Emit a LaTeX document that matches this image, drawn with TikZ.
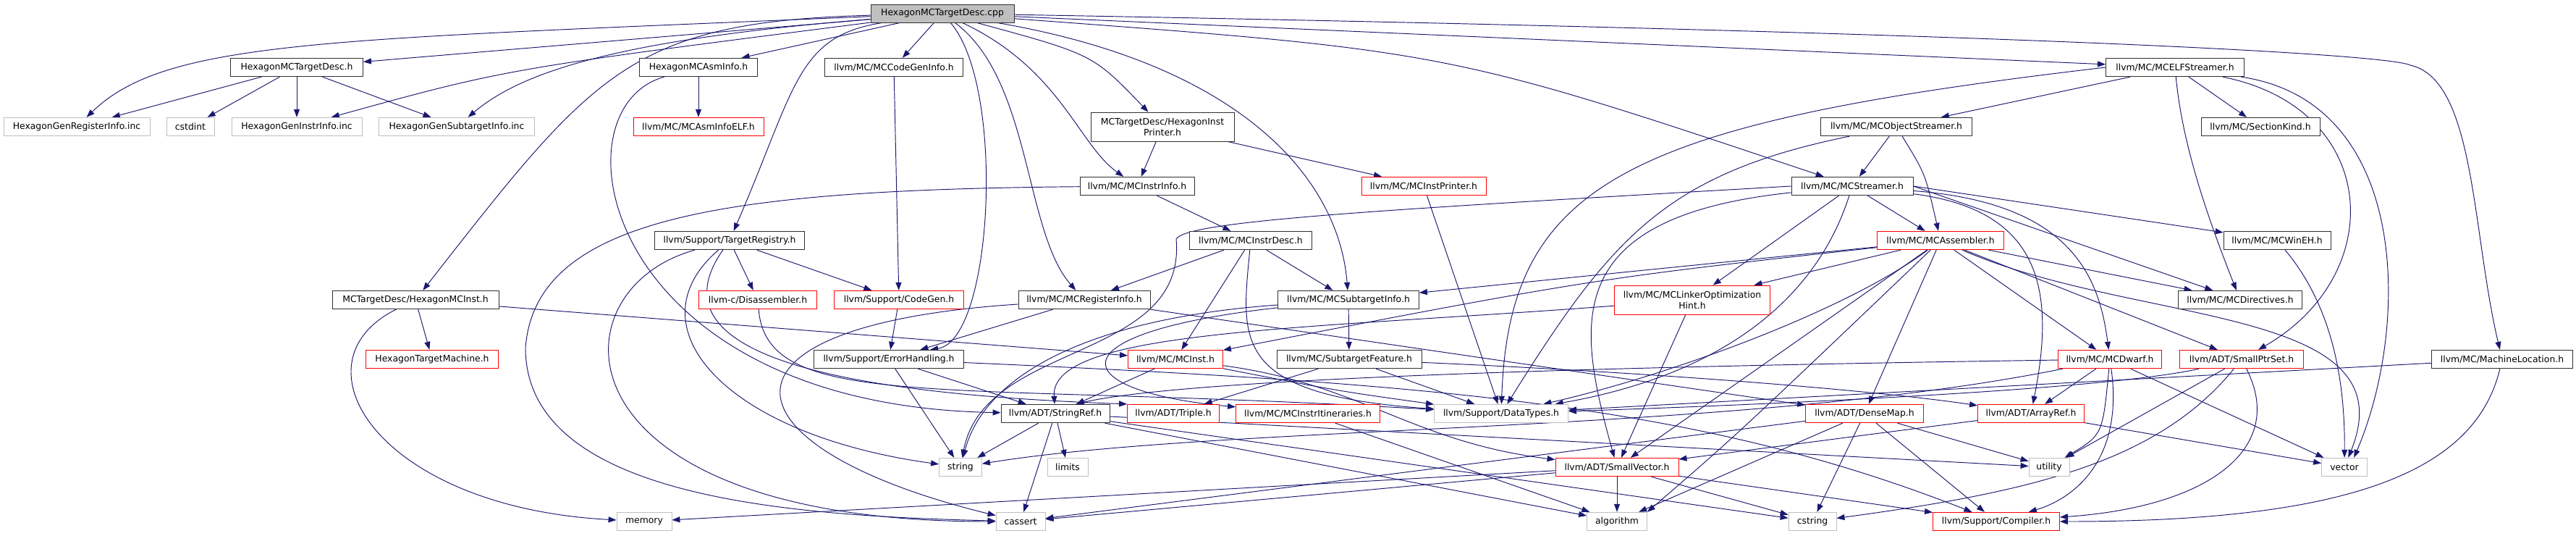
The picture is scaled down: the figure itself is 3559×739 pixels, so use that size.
\documentclass[tikz,border=0pt]{standalone}
\usepackage{fontspec}
\setmainfont{DejaVu Sans}
\usetikzlibrary{arrows.meta}
\pgfdeclarelayer{bg}
\pgfsetlayers{bg,main}
\definecolor{edgeblue}{HTML}{191970}
\definecolor{graybd}{HTML}{BFBFBF}
\definecolor{topfill}{HTML}{BFBFBF}
\definecolor{redbd}{HTML}{FF0000}
\definecolor{darkbd}{HTML}{303030}
\begin{document}
\begin{tikzpicture}[x=1pt,y=-1pt,
  nb/.style={draw=darkbd,fill=white,line width=0.85pt,minimum height=25.5pt,inner sep=0pt,font=\fontsize{12.4}{15}\selectfont},
  ng/.style={nb,draw=graybd},
  nr/.style={nb,draw=redbd},
  dep/.style={draw=edgeblue,line width=0.95pt,-{Triangle[length=11pt,width=8pt]}}]
\useasboundingbox (0,0) rectangle (3559,739);
% row 0
\node[nb,fill=topfill,minimum width=198pt,minimum height=25pt] (cpp) at (1302,18.5) {HexagonMCTargetDesc.cpp};
% row 1
\node[nb,minimum width=183pt] (tdh) at (410,93) {HexagonMCTargetDesc.h};
\node[nb,minimum width=163pt] (asm) at (965,93) {HexagonMCAsmInfo.h};
\node[nb,minimum width=191pt] (cgi) at (1235,93) {llvm/MC/MCCodeGenInfo.h};
\node[nb,minimum width=191pt] (elf) at (3005,93) {llvm/MC/MCELFStreamer.h};
% row 2
\node[ng,minimum width=202pt] (reginc) at (106,175) {HexagonGenRegisterInfo.inc};
\node[ng,minimum width=66pt] (cstdint) at (263,175) {cstdint};
\node[ng,minimum width=180pt] (instrinc) at (410,175) {HexagonGenInstrInfo.inc};
\node[ng,minimum width=215pt] (subinc) at (631,175) {HexagonGenSubtargetInfo.inc};
\node[nr,minimum width=180pt] (asmelf) at (965,175) {llvm/MC/MCAsmInfoELF.h};
\node[nb,minimum width=198pt,minimum height=40pt,align=center] (printer) at (1606,175) {MCTargetDesc/HexagonInst\\Printer.h};
\node[nb,minimum width=209pt] (objstr) at (2620,175) {llvm/MC/MCObjectStreamer.h};
\node[nb,minimum width=164pt] (seckind) at (3123,175) {llvm/MC/SectionKind.h};
% row 3
\node[nb,minimum width=158pt] (instrinfo) at (1571,257) {llvm/MC/MCInstrInfo.h};
\node[nr,minimum width=172pt] (instprinter) at (1967,257) {llvm/MC/MCInstPrinter.h};
\node[nb,minimum width=168pt] (streamer) at (2559,257) {llvm/MC/MCStreamer.h};
% row 4
\node[nb,minimum width=207pt] (treg) at (1008,332) {llvm/Support/TargetRegistry.h};
\node[nb,minimum width=169pt] (instrdesc) at (1728,332) {llvm/MC/MCInstrDesc.h};
\node[nr,minimum width=175pt] (assembler) at (2681,332) {llvm/MC/MCAssembler.h};
\node[nb,minimum width=148pt] (wineh) at (3146,332) {llvm/MC/MCWinEH.h};
% row 5
\node[nb,minimum width=230pt] (hmcinst) at (574,414) {MCTargetDesc/HexagonMCInst.h};
\node[nr,minimum width=163pt] (disasm) at (1047,414) {llvm-c/Disassembler.h};
\node[nr,minimum width=179pt] (codegen) at (1242,414) {llvm/Support/CodeGen.h};
\node[nb,minimum width=182pt] (reginfo) at (1498,414) {llvm/MC/MCRegisterInfo.h};
\node[nb,minimum width=195pt] (subinfo) at (1863,414) {llvm/MC/MCSubtargetInfo.h};
\node[nr,minimum width=215pt,minimum height=40pt,align=center] (loh) at (2338,414) {llvm/MC/MCLinkerOptimization\\Hint.h};
\node[nb,minimum width=171pt] (directives) at (3095,414) {llvm/MC/MCDirectives.h};
% row 6
\node[nr,minimum width=183pt] (htm) at (597,496) {HexagonTargetMachine.h};
\node[nb,minimum width=207pt] (errh) at (1228,496) {llvm/Support/ErrorHandling.h};
\node[nr,minimum width=131pt] (mcinst) at (1624,496) {llvm/MC/MCInst.h};
\node[nb,minimum width=200pt] (subfeat) at (1864,496) {llvm/MC/SubtargetFeature.h};
\node[nr,minimum width=143pt] (dwarf) at (2915,496) {llvm/MC/MCDwarf.h};
\node[nr,minimum width=171pt] (smallptr) at (3097,496) {llvm/ADT/SmallPtrSet.h};
\node[nb,minimum width=195pt] (machloc) at (3457,496) {llvm/MC/MachineLocation.h};
% row 7
\node[nb,minimum width=150pt] (stringref) at (1458,571) {llvm/ADT/StringRef.h};
\node[nr,minimum width=127pt] (triple) at (1621,571) {llvm/ADT/Triple.h};
\node[nr,minimum width=199pt] (itin) at (1807,571) {llvm/MC/MCInstrItineraries.h};
\node[ng,minimum width=185pt] (datatypes) at (2074,571) {llvm/Support/DataTypes.h};
\node[nr,minimum width=163pt] (densemap) at (2576,571) {llvm/ADT/DenseMap.h};
\node[nr,minimum width=147pt] (arrayref) at (2806,571) {llvm/ADT/ArrayRef.h};
% row 8
\node[ng,minimum width=59pt] (string) at (1327,645) {string};
\node[ng,minimum width=56pt] (limits) at (1475,645) {limits};
\node[nr,minimum width=170pt] (smallvec) at (2234,645) {llvm/ADT/SmallVector.h};
\node[ng,minimum width=56pt] (utility) at (2831,645) {utility};
\node[ng,minimum width=63pt] (vector) at (3239,645) {vector};
% row 9
\node[ng,minimum width=76pt] (memory) at (890,720) {memory};
\node[ng,minimum width=68pt] (cassert) at (1410,720) {cassert};
\node[ng,minimum width=83pt] (algorithm) at (2234,720) {algorithm};
\node[ng,minimum width=66pt] (cstring) at (2504,720) {cstring};
\node[nr,minimum width=175pt] (compiler) at (2758,720) {llvm/Support/Compiler.h};

\begin{pgfonlayer}{bg}
\fill[white] (0,0) rectangle (3559,739);
% cpp
\draw[dep] (cpp) .. controls (450,55) and (230,55) .. (reginc);
\draw[dep] (cpp) -- (tdh);
\draw[dep] (cpp) .. controls (700,95) .. (instrinc);
\draw[dep] (cpp) .. controls (850,55) and (720,100) .. (subinc);
\draw[dep] (cpp) .. controls (870,30) and (820,100) .. (hmcinst);
\draw[dep] (cpp) -- (asm);
\draw[dep] (cpp) .. controls (1100,50) and (1100,120) .. (treg);
\draw[dep] (cpp) -- (cgi);
\draw[dep] (cpp) .. controls (1390,120) and (1372,470) .. (errh.13);
\draw[dep] (cpp) .. controls (1425,110) and (1415,320) .. (reginfo);
\draw[dep] (cpp) .. controls (1465,95) and (1490,200) .. (instrinfo);
\draw[dep] (cpp) .. controls (1510,75) .. (printer);
\draw[dep] (cpp) .. controls (1720,90) and (1850,250) .. (subinfo);
\draw[dep] (cpp) .. controls (2000,70) .. (streamer);
\draw[dep] (cpp) -- (elf);
\draw[dep] (cpp) .. controls (2800,45) and (3300,75) .. (3330,90) .. controls (3420,110) and (3415,320) .. (machloc);
% tdh
\draw[dep] (tdh) -- (reginc);
\draw[dep] (tdh) -- (cstdint);
\draw[dep] (tdh) -- (instrinc);
\draw[dep] (tdh) -- (subinc);
% asm
\draw[dep] (asm) -- (asmelf);
\draw[dep] (asm) .. controls (760,150) and (830,560) .. (stringref);
% cgi
\draw[dep] (cgi) -- (codegen);
% printer
\draw[dep] (printer) -- (instrinfo);
\draw[dep] (printer) -- (instprinter);
% instrinfo
\draw[dep] (instrinfo) -- (instrdesc);
\draw[dep] (instrinfo) .. controls (1000,262) and (740,300) .. (726,480) .. controls (726,690) and (1100,712) .. (cassert);
% instrdesc
\draw[dep] (instrdesc) -- (reginfo);
\draw[dep] (instrdesc) -- (mcinst);
\draw[dep] (instrdesc) -- (subinfo);
\draw[dep] (instrdesc) .. controls (1715,470) and (1700,545) .. (datatypes);
% treg
\draw[dep] (treg) -- (disasm);
\draw[dep] (treg) -- (codegen);
\draw[dep] (treg) .. controls (890,500) and (1200,545) .. (triple.north west);
\draw[dep] (treg) .. controls (870,450) and (1000,600) .. (string);
\draw[dep] (treg) .. controls (760,400) and (760,720) .. (cassert);
% disasm, codegen
\draw[dep] (disasm) .. controls (1060,570) and (1300,525) .. (datatypes);
\draw[dep] (codegen) -- (errh);
% reginfo
\draw[dep] (reginfo) -- (errh);
\draw[dep] (reginfo) -- (densemap);
\draw[dep] (reginfo) .. controls (950,450) and (1000,620) .. (cassert);
% subinfo
\draw[dep] (subinfo) -- (subfeat);
\draw[dep] (subinfo) .. controls (1450,460) and (1470,540) .. (itin);
\draw[dep] (subinfo) .. controls (1500,440) and (1360,520) .. (string);
% subfeat
\draw[dep] (subfeat) -- (datatypes);
\draw[dep] (subfeat) -- (triple);
\draw[dep] (subfeat) .. controls (2300,515) and (2600,540) .. (arrayref);
% itin
\draw[dep] (itin) -- (algorithm);
% mcinst
\draw[dep] (mcinst) -- (stringref);
\draw[dep] (mcinst) .. controls (1880,530) and (1950,610) .. (smallvec);
\draw[dep] (mcinst) .. controls (1850,540) .. (datatypes);
% errh
\draw[dep] (errh) -- (stringref);
\draw[dep] (errh) -- (string);
\draw[dep] (errh) .. controls (2000,530) and (2350,560) .. (compiler);
% stringref
\draw[dep] (stringref) -- (string);
\draw[dep] (stringref) -- (limits);
\draw[dep] (stringref) -- (cassert);
\draw[dep] (stringref) -- (algorithm);
\draw[dep] (stringref) -- (cstring);
\draw[dep] (stringref) -- (utility);
% smallvec
\draw[dep] (smallvec) -- (algorithm);
\draw[dep] (smallvec) -- (memory);
\draw[dep] (smallvec) -- (cassert);
\draw[dep] (smallvec) -- (cstring);
\draw[dep] (smallvec) -- (compiler);
% smallptr
\draw[dep] (smallptr) .. controls (2900,540) and (2400,560) .. (datatypes);
\draw[dep] (smallptr) -- (utility);
\draw[dep] (smallptr) .. controls (2980,640) and (2800,680) .. (cstring);
\draw[dep] (smallptr) .. controls (3160,620) and (3050,700) .. (compiler);
% densemap
\draw[dep] (densemap) -- (cassert);
\draw[dep] (densemap) -- (algorithm);
\draw[dep] (densemap) -- (cstring);
\draw[dep] (densemap) -- (compiler);
\draw[dep] (densemap) -- (utility);
% arrayref
\draw[dep] (arrayref) -- (smallvec);
\draw[dep] (arrayref) -- (vector);
% dwarf
\draw[dep] (dwarf) -- (arrayref);
\draw[dep] (dwarf) .. controls (2905,600) .. (utility);
\draw[dep] (dwarf) .. controls (2935,640) and (2860,690) .. (compiler);
\draw[dep] (dwarf) -- (vector);
\draw[dep] (dwarf) .. controls (2300,505) and (1650,520) .. (stringref.25);
\draw[dep] (dwarf) .. controls (2400,600) and (1700,585) .. (string);
% assembler
\draw[dep] (assembler) -- (densemap);
\draw[dep] (assembler) -- (smallptr);
\draw[dep] (assembler) -- (smallvec);
\draw[dep] (assembler) -- (directives);
\draw[dep] (assembler) -- (dwarf);
\draw[dep] (assembler) .. controls (2200,385) .. (mcinst);
\draw[dep] (assembler) -- (loh);
\draw[dep] (assembler) -- (subinfo);
\draw[dep] (assembler) .. controls (2550,430) and (2300,520) .. (datatypes);
\draw[dep] (assembler) .. controls (2400,600) .. (algorithm.north east);
\draw[dep] (assembler) .. controls (2950,450) and (3330,420) .. (vector);
% loh
\draw[dep] (loh) -- (smallvec);
\draw[dep] (loh) .. controls (1800,455) and (1450,455) .. (stringref);
% streamer
\draw[dep] (streamer) -- (assembler);
\draw[dep] (streamer) -- (loh);
\draw[dep] (streamer.east) -- (directives);
\draw[dep] (streamer.east) -- (wineh);
\draw[dep] (streamer) .. controls (2860,280) and (2900,380) .. (dwarf);
\draw[dep] (streamer) .. controls (2820,290) and (2840,400) .. (arrayref);
\draw[dep] (streamer) .. controls (2520,380) and (2420,510) .. (datatypes);
\draw[dep] (streamer) .. controls (2150,300) and (2180,450) .. (smallvec);
\draw[dep] (streamer.west) .. controls (1900,290) and (1640,305) .. (1625,330) .. controls (1640,500) and (1360,470) .. (string);
% objstr
\draw[dep] (objstr) -- (streamer);
\draw[dep] (objstr) .. controls (2660,240) .. (assembler);
\draw[dep] (objstr) .. controls (2300,240) and (2225,330) .. (datatypes);
% elf
\draw[dep] (elf) -- (objstr);
\draw[dep] (elf) -- (seckind);
\draw[dep] (elf) .. controls (3015,200) and (3050,300) .. (directives);
\draw[dep] (elf) .. controls (3290,150) and (3300,380) .. (smallptr);
\draw[dep] (elf) .. controls (3330,140) and (3330,450) .. (vector.45);
\draw[dep] (elf.west) .. controls (2250,170) and (2085,250) .. (datatypes);
% machloc, wineh
\draw[dep] (machloc) -- (datatypes);
\draw[dep] (machloc) .. controls (3420,650) and (3250,720) .. (compiler);
\draw[dep] (wineh) .. controls (3220,420) and (3240,520) .. (vector);
% hmcinst
\draw[dep] (hmcinst) -- (htm);
\draw[dep] (hmcinst) -- (mcinst);
\draw[dep] (hmcinst) .. controls (400,500) and (520,700) .. (memory);
% instprinter
\draw[dep] (instprinter) -- (datatypes);
\end{pgfonlayer}
\end{tikzpicture}
\end{document}
